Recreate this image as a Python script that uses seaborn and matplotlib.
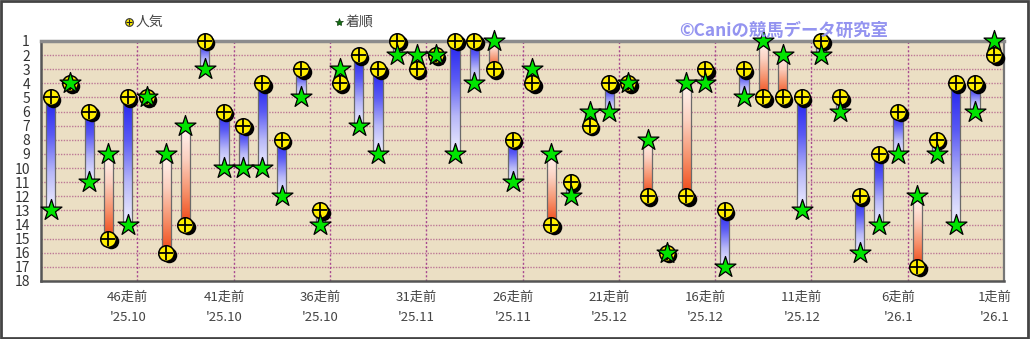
import numpy as np
import pandas as pd
import seaborn as sns
import matplotlib
matplotlib.use("Agg")
import matplotlib.pyplot as plt
from matplotlib.lines import Line2D
from matplotlib.patches import Rectangle
from matplotlib.transforms import offset_copy
from matplotlib.colors import LinearSegmentedColormap

# ---- data ----
races_ago = list(range(50, 0, -1))
popularity = [5, 4, 6, 15, 5, 5, 16, 14, 1, 6,
              7, 4, 8, 3, 13, 4, 2, 3, 1, 3,
              2, 1, 1, 3, 8, 4, 14, 11, 7, 4,
              4, 12, 16, 12, 3, 13, 3, 5, 5, 5,
              1, 5, 12, 9, 6, 17, 8, 4, 4, 2]
finish = [13, 4, 11, 9, 14, 5, 9, 7, 3, 10,
          10, 10, 12, 5, 14, 3, 7, 9, 2, 2,
          2, 9, 4, 1, 11, 3, 9, 12, 6, 6,
          4, 8, 16, 4, 4, 17, 5, 1, 2, 13,
          2, 6, 16, 14, 9, 12, 9, 14, 6, 1]
tick_races = [46, 41, 36, 31, 26, 21, 16, 11, 6, 1]
tick_dates = ["'25.10", "'25.10", "'25.10", "'25.11", "'25.11",
              "'25.12", "'25.12", "'25.12", "'26.1", "'26.1"]
y_ticks = list(range(1, 19))
legend_labels = ["人気", "着順"]
credit = "©Caniの競馬データ研究室"

df = pd.DataFrame({"idx": np.arange(len(races_ago)),
                   "ago": races_ago,
                   "pop": popularity,
                   "fin": finish})

sns.set_theme(style="white")
plt.rcParams["font.family"] = ["Noto Sans CJK JP", "DejaVu Sans"]

W, H = 1030, 339
fig = plt.figure(figsize=(W / 100, H / 100), dpi=100)
fig.patch.set_facecolor("white")
ax = fig.add_axes([41 / W, 1 - 281 / H, 963 / W, 240 / H])
ax.set_facecolor("#ebdfc4")

# grid
for yv in range(2, 18):
    ax.axhline(yv, color="#bd7896", lw=1.0, ls=(0, (1, 1)), zorder=1)
for k in range(1, 10):
    ax.axvline(5 * k - 0.5, color="#a84890", lw=1.0, ls=(0, (1.5, 1.5)), zorder=1)

# bars with gradient
blue = LinearSegmentedColormap.from_list("b", ["#2222f0", "#5a5af4", "#b8b8f8", "#f0f0ff"])
red = LinearSegmentedColormap.from_list("r", ["#f04412", "#f6906a", "#fbd0c0", "#fff6f2"])
bw = 0.48
bars = ax.bar(df["idx"], df["fin"] - df["pop"], bottom=df["pop"], width=bw,
              color="none", edgecolor="#6a6a6a", linewidth=0.9, zorder=3)
grad = np.linspace(0, 1, 256).reshape(-1, 1)
for rect, x, p, f in zip(bars, df["idx"], df["pop"], df["fin"]):
    if p == f:
        rect.set_visible(False)
        continue
    cm = blue if f > p else red
    im = ax.imshow(grad, cmap=cm, aspect="auto", origin="upper",
                   extent=(x - bw / 2, x + bw / 2, f, p), zorder=2.5,
                   interpolation="bilinear")
    im.set_clip_path(rect)

# yellow markers: shadow, body, cross
shadow_tr = offset_copy(ax.transData, fig=fig, x=2.5, y=-2.5, units="dots")
sh = ax.scatter(df["idx"], df["pop"], s=125, color="black", linewidths=0,
                zorder=4, clip_on=False)
sh.set_offset_transform(shadow_tr)
sns.scatterplot(data=df, x="idx", y="pop", ax=ax, marker="o", s=125,
                color="#ffee00", edgecolor="black", linewidth=1.1,
                zorder=5, clip_on=False, legend=False)
ax.scatter(df["idx"], df["pop"], marker="+", s=105, color="black",
           linewidths=1.3, zorder=6, clip_on=False)
# green stars
sns.scatterplot(data=df, x="idx", y="fin", ax=ax, marker="*", s=250,
                color="#00e400", edgecolor="black", linewidth=0.9,
                zorder=7, clip_on=False, legend=False)

ax.set_xlim(-0.5, len(races_ago) - 0.5)
ax.set_ylim(18, 1)
ax.set_yticks(y_ticks)
ax.set_yticklabels([str(v) for v in y_ticks], fontsize=10, color="#333333")
xt = [races_ago.index(r) for r in tick_races]
ax.set_xticks(xt)
ax.set_xticklabels([f"{r}走前\n{d}" for r, d in zip(tick_races, tick_dates)],
                   fontsize=9.5, color="#444444", linespacing=1.75)
ax.tick_params(axis="both", length=0)
ax.tick_params(axis="y", pad=8)
ax.tick_params(axis="x", pad=7)
ax.set_xlabel("")
ax.set_ylabel("")
ax.grid(False)

for side, c, lw in [("top", "#8c8c8c", 2.5), ("left", "#555555", 1.8),
                    ("bottom", "#555555", 1.8), ("right", "#777777", 1.6)]:
    ax.spines[side].set_visible(True)
    ax.spines[side].set_color(c)
    ax.spines[side].set_linewidth(lw)

# legend (manual)
ly = 1 - 22 / H
fig.add_artist(Line2D([129 / W], [ly], marker="o", ms=5.5, mfc="#ffee00",
                      mec="#333333", mew=0.8, ls="none", transform=fig.transFigure))
fig.add_artist(Line2D([129 / W], [ly], marker="+", ms=4.5, color="#222222",
                      mew=0.8, ls="none", transform=fig.transFigure))
fig.text(136 / W, ly, legend_labels[0], ha="left", va="center", fontsize=10, color="#444444")
fig.add_artist(Line2D([339 / W], [ly], marker="*", ms=6, mfc="#107010",
                      mec="#104010", mew=0.5, ls="none", transform=fig.transFigure))
fig.text(346 / W, ly, legend_labels[1], ha="left", va="center", fontsize=10, color="#444444")

# credit
fig.text(888 / W, 1 - 31 / H, credit, ha="right", va="center", fontsize=12.5,
         fontweight="bold", color="#9494f0")

# outer frame
fig.add_artist(Rectangle((0.001, 0.002), 0.997, 0.995, transform=fig.transFigure,
                         fill=False, edgecolor="#444444", linewidth=2))

fig.savefig("out.png", dpi=100)
